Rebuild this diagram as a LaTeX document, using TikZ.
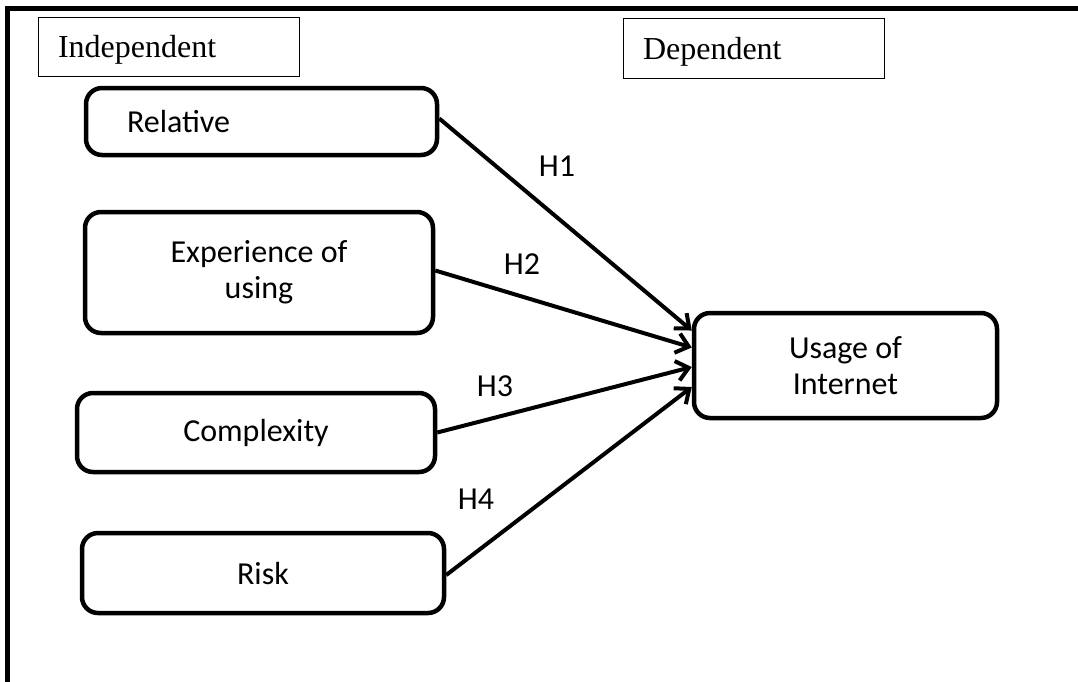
\documentclass[tikz,border=0pt]{standalone}
\usepackage{fontspec}
\setmainfont{Liberation Serif}
\newfontfamily\calib{Carlito}
\usetikzlibrary{arrows.meta}
\begin{document}
\begin{tikzpicture}[x=1pt,y=-1pt,
  labelbox/.style={draw, line width=1pt, font=\fontsize{32}{38}\selectfont,
     align=left, inner xsep=20pt, inner ysep=0pt, text depth=0pt, minimum height=59pt, anchor=center},
  varbox/.style={draw, line width=4.5pt, rounded corners=16pt,
     font=\calib\fontsize{32}{36}\selectfont, align=center, inner sep=0pt, anchor=center},
  hyp/.style={font=\calib\fontsize{32}{36}\selectfont, inner sep=0pt, anchor=center},
  link/.style={line width=4pt, -{Straight Barb[length=12pt,width=20pt,line width=4pt]}}]
\useasboundingbox (0,0) rectangle (1078,681);
% frame
\draw[line width=5pt] (7,690) -- (7,8.5) -- (1085,8.5);
% headers
\node[labelbox, text width=221pt] (indep) at (168.5,46.5) {Independent};
\node[labelbox, text width=221pt, minimum height=60pt] (dep) at (753.5,48) {Dependent};
% variables
\node[varbox, text width=269pt, inner xsep=41pt, align=left, minimum height=67pt] (rel) at (261.5,121.5) {Relative};
\node[varbox, minimum width=348pt, minimum height=121pt] (exp) at (259,272.5) {Experience of\\using};
\node[varbox, minimum width=358pt, minimum height=79pt] (cpx) at (256,432.5) {Complexity};
\node[varbox, minimum width=362pt, minimum height=80pt] (risk) at (263,573) {Risk};
\node[varbox, minimum width=303pt, minimum height=105pt] (use) at (845.5,365.5) {Usage of\\Internet};
% links
\draw[link] ([yshift=3pt]rel.east) -- ([yshift=35pt]use.west);
\draw[link] ([yshift=2pt]exp.east) -- ([yshift=18pt]use.west);
\draw[link] (cpx.east) -- ([yshift=-1.5pt]use.west);
\draw[link] ([yshift=-2pt]risk.east) -- ([yshift=-21.5pt]use.west);
% hypothesis labels
\node[hyp] (h1) at (557,166) {H1};
\node[hyp] (h2) at (522,264) {H2};
\node[hyp] (h3) at (495,386) {H3};
\node[hyp] (h4) at (476,499) {H4};
\end{tikzpicture}
\end{document}
